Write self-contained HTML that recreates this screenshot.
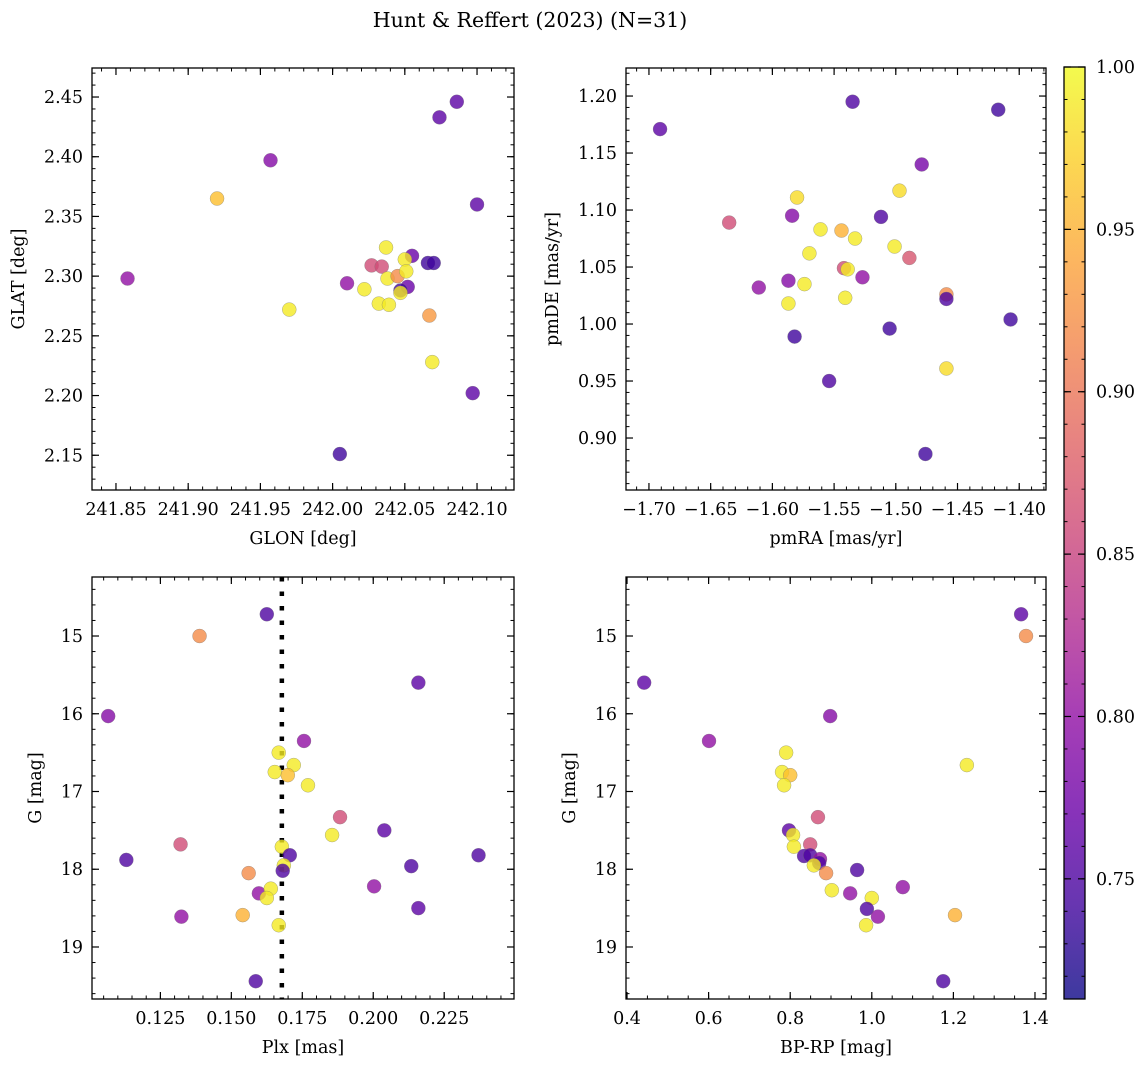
<!DOCTYPE html>
<html><head><meta charset="utf-8"><style>
body{margin:0;background:#fff;}
svg{display:block;font-family:"DejaVu Serif","Liberation Serif",serif;}
</style></head><body>
<svg id="fig" width="1148" height="1067" viewBox="0 0 1148 1067">
<defs><linearGradient id="cbgrad" x1="0" y1="1" x2="0" y2="0">
<stop offset="0" stop-color="#0d0887"/><stop offset="0.1" stop-color="#41049d"/><stop offset="0.2" stop-color="#6a00a8"/><stop offset="0.3" stop-color="#8f0da4"/><stop offset="0.4" stop-color="#b12a90"/><stop offset="0.5" stop-color="#cc4778"/><stop offset="0.6" stop-color="#e16462"/><stop offset="0.7" stop-color="#f2844b"/><stop offset="0.8" stop-color="#fca636"/><stop offset="0.9" stop-color="#fcce25"/><stop offset="1" stop-color="#f0f921"/>
</linearGradient></defs>
<text x="530" y="27" font-size="20.5" text-anchor="middle">Hunt &amp; Reffert (2023) (N=31)</text>
</svg>
<script>
// Panel 1: GLON vs GLAT
const p1Glon=[241.858,241.920,241.957,241.970,242.005,242.037,242.027,242.034,242.055,242.050,242.066,242.070,242.010,242.022,242.038,242.045,242.051,242.052,242.047,242.047,242.032,242.039,242.067,242.069,242.074,242.086,242.100,242.097];
const p1Glat=[2.298,2.365,2.397,2.272,2.151,2.324,2.309,2.308,2.317,2.314,2.311,2.311,2.294,2.289,2.298,2.300,2.304,2.291,2.288,2.286,2.277,2.276,2.267,2.228,2.433,2.446,2.360,2.202];
const p1Prob=[0.80,0.96,0.79,0.99,0.74,0.99,0.86,0.86,0.77,0.99,0.74,0.74,0.80,0.99,0.99,0.92,0.99,0.77,0.74,0.99,0.99,0.99,0.93,0.99,0.76,0.76,0.76,0.76];
// Panel 2: pmRA vs pmDE
const p2Pmra=[-1.691,-1.417,-1.535,-1.479,-1.497,-1.580,-1.635,-1.512,-1.584,-1.561,-1.533,-1.544,-1.570,-1.501,-1.489,-1.542,-1.539,-1.587,-1.574,-1.527,-1.611,-1.459,-1.459,-1.407,-1.587,-1.541,-1.505,-1.582,-1.459,-1.554,-1.476];
const p2Pmde=[1.171,1.188,1.195,1.140,1.117,1.111,1.089,1.094,1.095,1.083,1.075,1.082,1.062,1.068,1.058,1.049,1.048,1.038,1.035,1.041,1.032,1.026,1.022,1.004,1.018,1.023,0.996,0.989,0.961,0.950,0.886];
const p2Prob=[0.76,0.74,0.75,0.78,0.98,0.98,0.86,0.75,0.79,0.99,0.99,0.95,0.99,0.99,0.87,0.86,0.99,0.79,0.99,0.80,0.80,0.92,0.75,0.74,0.99,0.99,0.74,0.74,0.98,0.75,0.74];
// Panel 3: Plx vs G
const p3Plx=[0.1625,0.1388,0.1066,0.2159,0.1756,0.1667,0.1720,0.1653,0.1699,0.1770,0.1883,0.1855,0.1321,0.2039,0.1130,0.1678,0.1706,0.1685,0.1681,0.2371,0.1561,0.2134,0.2003,0.1597,0.1639,0.1625,0.1540,0.1324,0.2159,0.1667,0.1586];
const p3G=[14.72,15.00,16.03,15.60,16.35,16.50,16.66,16.75,16.79,16.92,17.33,17.56,17.68,17.50,17.88,17.71,17.82,17.95,18.02,17.82,18.05,17.96,18.22,18.31,18.25,18.37,18.59,18.61,18.50,18.72,19.44];
const p3Prob=[0.75,0.92,0.79,0.76,0.80,0.99,0.99,0.99,0.96,0.99,0.86,0.99,0.86,0.76,0.75,0.99,0.75,0.99,0.75,0.75,0.92,0.75,0.80,0.80,0.99,0.99,0.95,0.80,0.76,0.99,0.75];
const plxLine=[0.1678];
// Panel 4: BP-RP vs G
const p4Bprp=[1.366,1.378,0.442,0.601,0.898,0.790,0.780,0.800,0.785,0.868,0.797,0.807,0.809,0.849,0.834,0.849,0.873,0.871,0.858,0.888,0.964,0.902,0.947,1.076,1.000,0.988,1.015,0.986,1.233,1.204,1.175];
const p4G=[14.72,15.00,15.60,16.35,16.03,16.50,16.75,16.79,16.92,17.33,17.50,17.56,17.71,17.68,17.83,17.82,17.87,17.92,17.95,18.05,18.01,18.27,18.31,18.23,18.37,18.51,18.61,18.72,16.66,18.59,19.44];
const p4Prob=[0.76,0.92,0.76,0.80,0.79,0.99,0.99,0.96,0.99,0.86,0.76,0.99,0.99,0.86,0.75,0.75,0.80,0.75,0.99,0.92,0.75,0.99,0.80,0.80,0.99,0.75,0.80,0.99,0.99,0.95,0.75];
// tick labels
const p1XTicks=[241.85,241.90,241.95,242.00,242.05,242.10];
const p1YTicks=[2.15,2.20,2.25,2.30,2.35,2.40,2.45];
const p2XTicks=[-1.70,-1.65,-1.60,-1.55,-1.50,-1.45,-1.40];
const p2YTicks=[0.90,0.95,1.00,1.05,1.10,1.15,1.20];
const p3XTicks=[0.125,0.150,0.175,0.200,0.225];
const gTicks=[15,16,17,18,19];
const p4XTicks=[0.4,0.6,0.8,1.0,1.2,1.4];
const cbTicks=[0.75,0.80,0.85,0.90,0.95,1.00];
const VMIN=0.713, VMAX=1.0;

const NS="http://www.w3.org/2000/svg";
const svg=document.getElementById('fig');
const FS=17.5;
function mk(tag,attrs,parent){const e=document.createElementNS(NS,tag);for(const k in attrs)e.setAttribute(k,attrs[k]);(parent||svg).appendChild(e);return e;}
const stops=[[13,8,135],[65,4,157],[106,0,168],[143,13,164],[177,42,144],[204,71,120],[225,100,98],[242,132,75],[252,166,54],[252,206,37],[240,249,33]];
function plasma(v){let t=(v-VMIN)/(VMAX-VMIN);t=Math.max(0,Math.min(1,t))*10;const i=Math.min(9,Math.floor(t)),f=t-i;const a=stops[i],b=stops[i+1];return 'rgb('+a.map((c,k)=>Math.round(c+(b[k]-c)*f)).join(',')+')';}
function fmt(v,d){return (v<0?'\u2212':'')+Math.abs(v).toFixed(d);}

function panel(o){
  const g=mk('g',{});
  
  
  const X=v=>o.x0+(v-o.xr[0])/(o.xr[1]-o.xr[0])*(o.x1-o.x0);
  const Y=v=>o.yinv? o.y0+(v-o.yr[0])/(o.yr[1]-o.yr[0])*(o.y1-o.y0) : o.y1-(v-o.yr[0])/(o.yr[1]-o.yr[0])*(o.y1-o.y0);
  const minorX=o.xm, minorY=o.ym;
  for(let v=Math.ceil(o.xr[0]/minorX)*minorX; v<=o.xr[1]; v+=minorX){const x=X(v);
    mk('line',{x1:x,x2:x,y1:o.y1,y2:o.y1-3.5,stroke:'#000','stroke-width':1},g);
    mk('line',{x1:x,x2:x,y1:o.y0,y2:o.y0+3.5,stroke:'#000','stroke-width':1},g);}
  for(let v=Math.ceil(o.yr[0]/minorY)*minorY; v<=o.yr[1]; v+=minorY){const y=Y(v);
    mk('line',{x1:o.x0,x2:o.x0+3.5,y1:y,y2:y,stroke:'#000','stroke-width':1},g);
    mk('line',{x1:o.x1,x2:o.x1-3.5,y1:y,y2:y,stroke:'#000','stroke-width':1},g);}
  o.xt.forEach(v=>{const x=X(v);
    mk('line',{x1:x,x2:x,y1:o.y1,y2:o.y1-7,stroke:'#000','stroke-width':1.2},g);
    mk('line',{x1:x,x2:x,y1:o.y0,y2:o.y0+7,stroke:'#000','stroke-width':1.2},g);
    const t=mk('text',{x:x,y:o.y1+25,'font-size':FS,'text-anchor':'middle'},g);t.textContent=fmt(v,o.xd);
    
    });
  o.yt.forEach(v=>{const y=Y(v);
    mk('line',{x1:o.x0,x2:o.x0+7,y1:y,y2:y,stroke:'#000','stroke-width':1.2},g);
    mk('line',{x1:o.x1,x2:o.x1-7,y1:y,y2:y,stroke:'#000','stroke-width':1.2},g);
    const t=mk('text',{x:o.x0-9,y:y+6,'font-size':FS,'text-anchor':'end'},g);t.textContent=fmt(v,o.yd);
    
    });
  if(o.vline){o.vline.forEach(v=>{const l=mk('line',{x1:X(v),x2:X(v),y1:o.y0,y2:o.y1,stroke:'#000','stroke-width':4.5,'stroke-dasharray':'4.5 10'},g);
    
    });}
  o.xs.forEach((xv,i)=>{const c=mk('circle',{cx:X(xv),cy:Y(o.ys[i]),r:7,fill:plasma(o.cs[i]),'fill-opacity':0.8,stroke:'#777','stroke-width':0.5,'stroke-opacity':0.6},g);
    
    });
  const box=mk('rect',{x:o.x0,y:o.y0,width:o.x1-o.x0,height:o.y1-o.y0,fill:'none',stroke:'#000','stroke-width':1.3},g);
  
  
  const xl=mk('text',{x:(o.x0+o.x1)/2,y:o.y1+54,'font-size':FS,'text-anchor':'middle'},g);xl.textContent=o.xlab;
  
  
  const yx=o.ylx, yy=(o.y0+o.y1)/2;
  const yl=mk('text',{x:yx,y:yy,'font-size':FS,'text-anchor':'middle',transform:`rotate(-90 ${yx} ${yy})`},g);yl.textContent=o.ylab;
  
  
}
panel({name:'glon-glat-panel',x0:92,x1:514,y0:68,y1:490,xr:[241.8334,242.1256],yr:[2.1209,2.4743],xt:p1XTicks,yt:p1YTicks,xm:0.01,ym:0.01,xd:2,yd:2,xs:p1Glon,ys:p1Glat,cs:p1Prob,xlab:'GLON [deg]',ylab:'GLAT [deg]',ylx:24});
panel({name:'proper-motion-panel',x0:626,x1:1046,y0:68,y1:490,xr:[-1.7186,-1.3783],yr:[0.8544,1.2246],xt:p2XTicks,yt:p2YTicks,xm:0.01,ym:0.01,xd:2,yd:2,xs:p2Pmra,ys:p2Pmde,cs:p2Prob,xlab:'pmRA [mas/yr]',ylab:'pmDE [mas/yr]',ylx:558});
panel({name:'parallax-magnitude-panel',x0:92,x1:514,y0:577,y1:999,xr:[0.1009,0.2496],yr:[14.241,19.669],yinv:true,xt:p3XTicks,yt:gTicks,xm:0.005,ym:0.2,xd:3,yd:0,xs:p3Plx,ys:p3G,cs:p3Prob,vline:plxLine,xlab:'Plx [mas]',ylab:'G [mag]',ylx:41});
panel({name:'color-magnitude-panel',x0:626,x1:1046,y0:577,y1:999,xr:[0.3975,1.427],yr:[14.241,19.669],yinv:true,xt:p4XTicks,yt:gTicks,xm:0.05,ym:0.2,xd:1,yd:0,xs:p4Bprp,ys:p4G,cs:p4Prob,xlab:'BP-RP [mag]',ylab:'G [mag]',ylx:575});

// colorbar
const cb=mk('g',{});


const cbx0=1064,cbx1=1085,cby0=67,cby1=999;
mk('rect',{x:cbx0,y:cby0,width:cbx1-cbx0,height:cby1-cby0,fill:'url(#cbgrad)','fill-opacity':0.8},cb);
const CY=v=>cby1-(v-VMIN)/(VMAX-VMIN)*(cby1-cby0);
for(let v=0.72;v<=1.0001;v+=0.01){const y=CY(v);mk('line',{x1:cbx1,x2:cbx1-3.5,y1:y,y2:y,stroke:'#000'},cb);mk('line',{x1:cbx0,x2:cbx0+3.5,y1:y,y2:y,stroke:'#000'},cb);}
cbTicks.forEach(v=>{const y=CY(v);
  mk('line',{x1:cbx1,x2:cbx1-7,y1:y,y2:y,stroke:'#000','stroke-width':1.2},cb);
  mk('line',{x1:cbx0,x2:cbx0+7,y1:y,y2:y,stroke:'#000','stroke-width':1.2},cb);
  const t=mk('text',{x:cbx1+11,y:y+6,'font-size':FS},cb);t.textContent=v.toFixed(2);
  
  });
mk('rect',{x:cbx0,y:cby0,width:cbx1-cbx0,height:cby1-cby0,fill:'none',stroke:'#000','stroke-width':1.3},cb);
</script>
</body></html>
